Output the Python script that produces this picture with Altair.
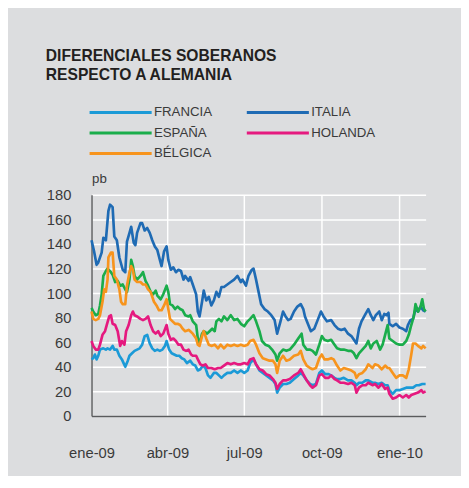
import altair as alt
import pandas as pd

TITLE = ["DIFERENCIALES SOBERANOS", "RESPECTO A ALEMANIA"]
# legend order (column by column: FRANCIA/ESPAÑA/BÉLGICA, then ITALIA/HOLANDA)
SERIES = ["FRANCIA", "ESPAÑA", "BÉLGICA", "ITALIA", "HOLANDA"]
COLORS = ["#1b9ad7", "#1aad4b", "#f7941d", "#1f6bb4", "#e5197f"]
START = "2009-01-01"
MONTHS = ["ene", "feb", "mar", "abr", "may", "jun", "jul", "ago", "sep", "oct", "nov", "dic"]

# days since 2009-01-01 and spread (pb)
ITALIA_D = [0, 3, 6, 8, 12, 14, 17, 20, 22, 25, 27, 30, 33, 37, 40, 42, 45, 47, 50, 52, 54, 58, 60, 63, 66, 69, 72, 75,
            78, 81, 83, 86, 89, 91, 94, 97, 100, 103, 106, 109, 111, 115, 117, 120, 124, 126, 128, 131, 133, 136, 139,
            142, 145, 148, 151, 154, 157, 161, 165, 169, 173, 177, 179, 183, 186, 190,
            192, 195, 198, 201, 205, 209, 213, 217, 220, 224, 227, 230, 233, 236, 240, 244, 248, 251, 253, 257, 260, 264,
            268, 272, 275, 279, 284, 288, 292, 296, 300, 304, 308, 311, 314, 317, 320, 324, 328, 331, 334, 337, 341, 344,
            347, 350, 352, 353, 357, 361, 365, 369, 373, 375, 378, 381, 384, 387, 390, 393, 396]
ITALIA_V = [143, 134, 123, 125, 133, 145, 143, 167, 172, 170, 146, 143, 129, 119, 117, 142, 149, 154, 141, 139, 149, 157,
            157, 151, 153, 149, 143, 138, 135, 127, 122, 134, 138, 127, 119, 121, 117, 119, 118, 111, 114, 110, 113, 107,
            99, 85, 81, 93, 102, 94, 97, 90, 94, 101, 97, 105, 105, 107, 109, 111, 114, 109, 111, 106, 114, 119,
            120, 111, 101, 91, 87, 85, 82, 78, 67, 77, 85, 81, 78, 79, 85, 89, 91, 87, 81, 74, 69, 71, 78, 85, 81, 77,
            78, 74, 71, 70, 71, 67, 65, 62, 59, 71, 77, 82, 87, 82, 78, 82, 85, 78, 83, 82, 84, 75, 73, 75, 72, 71, 69,
            74, 78, 79, 87, 85, 89, 86, 85]

ESPANA_D = [0, 2, 5, 8, 10, 12, 14, 17, 19, 23, 25, 28, 31, 34, 37, 40, 42, 45, 47, 49, 51, 54, 58, 61, 64, 67, 70, 73,
            76, 78, 82, 85, 89, 91, 93, 96, 99, 102, 105, 108, 111, 115, 117, 120, 124, 126, 128, 131, 133, 137, 140,
            143, 146, 148, 151, 154, 157, 161, 165, 169, 173, 177, 181, 185, 188,
            192, 195, 199, 202, 206, 210, 214, 218, 220, 223, 227, 231, 235, 240, 245, 249, 251, 255, 259, 262, 266, 270,
            273, 276, 280, 284, 287, 291, 295, 299, 304, 308, 311, 314, 317, 321, 325, 328, 331, 334, 338, 342, 345, 348,
            351, 353, 357, 361, 365, 369, 373, 376, 379, 382, 384, 387, 390, 392, 394, 396]
ESPANA_V = [88, 85, 82, 83, 90, 99, 114, 118, 120, 117, 115, 109, 110, 106, 107, 103, 101, 111, 127, 122, 114, 111, 114,
            117, 110, 106, 101, 99, 102, 98, 95, 99, 106, 101, 91, 90, 87, 89, 87, 86, 82, 81, 82, 77, 74, 63, 59, 67,
            69, 67, 69, 71, 69, 77, 79, 77, 81, 78, 82, 78, 79, 75, 73, 77, 79,
            82, 77, 69, 61, 58, 57, 54, 50, 45, 51, 54, 53, 54, 58, 63, 67, 58, 54, 54, 53, 50, 58, 65, 62, 61, 62, 59,
            55, 54, 54, 53, 53, 51, 47, 51, 54, 57, 61, 55, 59, 61, 54, 58, 66, 74, 63, 61, 59, 58, 58, 61, 66, 74, 81,
            91, 85, 89, 95, 87, 85]

BELGICA_D = [0, 2, 5, 8, 10, 13, 15, 17, 19, 20, 23, 25, 27, 30, 33, 35, 37, 40, 42, 45, 47, 49, 51, 54, 58, 61, 64, 67,
             70, 74, 77, 80, 83, 86, 89, 91, 93, 96, 99, 102, 105, 108, 111, 115, 117, 120, 124, 126, 128, 131, 133,
             136, 139, 142, 146, 150, 153, 157, 161, 165, 169, 173, 177, 181, 185, 188,
             192, 195, 199, 203, 207, 211, 215, 218, 220, 223, 227, 231, 235, 240, 245, 248, 251, 255, 259, 262, 266,
             270, 273, 276, 280, 284, 287, 291, 295, 299, 304, 308, 312, 314, 317, 321, 325, 328, 333, 336, 340, 344,
             348, 351, 353, 357, 361, 365, 369, 373, 376, 379, 381, 384, 387, 391, 393, 396]
BELGICA_V = [85, 79, 78, 79, 82, 93, 103, 101, 111, 129, 133, 133, 114, 111, 103, 93, 91, 91, 106, 117, 122, 119, 111,
             109, 109, 107, 107, 103, 101, 93, 90, 86, 86, 90, 95, 87, 79, 77, 75, 75, 74, 71, 69, 70, 69, 67, 63, 58,
             57, 65, 69, 63, 58, 57, 58, 55, 58, 55, 58, 57, 58, 57, 58, 57, 58, 61,
             62, 58, 51, 47, 46, 45, 45, 42, 35, 45, 49, 45, 46, 49, 50, 53, 46, 41, 39, 38, 39, 47, 50, 46, 46, 47, 46,
             41, 37, 39, 38, 37, 35, 31, 34, 35, 38, 42, 39, 42, 41, 38, 41, 39, 39, 35, 31, 33, 33, 31, 38, 50, 59, 59,
             57, 55, 57, 55]

HOLANDA_D = [0, 2, 5, 8, 10, 13, 16, 18, 21, 23, 25, 28, 31, 34, 36, 39, 41, 44, 47, 49, 51, 54, 58, 61, 64, 67, 70, 73,
             76, 79, 82, 85, 89, 91, 94, 97, 100, 103, 106, 109, 112, 115, 118, 120, 124, 126, 129, 132, 135, 138, 142,
             146, 150, 153, 157, 161, 165, 169, 173, 177, 181, 185, 188,
             192, 195, 199, 203, 207, 211, 215, 218, 220, 223, 227, 231, 235, 240, 245, 248, 251, 255, 259, 262, 266,
             270, 273, 277, 281, 284, 288, 291, 295, 299, 304, 308, 312, 314, 317, 321, 325, 328, 333, 336, 340, 344,
             348, 351, 353, 357, 361, 365, 369, 373, 376, 379, 383, 387, 391, 393, 396]
HOLANDA_V = [61, 57, 54, 54, 58, 66, 69, 74, 81, 82, 75, 74, 69, 57, 61, 58, 69, 74, 82, 85, 82, 81, 79, 78, 79, 81, 74,
             69, 67, 69, 65, 67, 74, 67, 62, 63, 61, 58, 58, 54, 53, 54, 50, 49, 49, 46, 42, 41, 42, 39, 39, 38, 39, 39,
             41, 43, 42, 43, 42, 42, 43, 42, 46,
             47, 42, 38, 37, 34, 33, 30, 27, 22, 26, 29, 29, 30, 33, 35, 38, 34, 29, 25, 23, 25, 33, 34, 31, 31, 33, 30,
             29, 27, 27, 26, 27, 25, 19, 23, 25, 25, 27, 25, 26, 23, 26, 22, 23, 18, 14, 15, 17, 15, 17, 15, 17, 18, 19,
             21, 19, 20]

FRANCIA_D = [0, 2, 4, 6, 8, 10, 14, 17, 19, 22, 25, 27, 30, 33, 36, 38, 40, 43, 45, 48, 51, 54, 57, 60, 63, 66, 69, 72,
             75, 78, 81, 84, 87, 89, 92, 95, 98, 101, 104, 107, 110, 113, 117, 120, 123, 126, 129, 132, 135, 138, 141,
             145, 148, 151, 154, 157, 161, 165, 169, 173, 177, 181, 185, 188,
             192, 195, 199, 203, 207, 211, 215, 218, 220, 223, 227, 231, 235, 240, 245, 248, 251, 255, 259, 262, 266,
             270, 273, 277, 281, 284, 288, 291, 295, 299, 304, 308, 312, 314, 317, 321, 325, 328, 333, 336, 340, 344,
             348, 351, 353, 357, 361, 365, 369, 373, 377, 381, 385, 388, 392, 396]
FRANCIA_V = [46, 47, 50, 46, 49, 54, 55, 54, 55, 54, 57, 54, 54, 49, 46, 43, 40, 45, 49, 51, 53, 54, 55, 58, 65, 66, 59,
             55, 53, 54, 53, 54, 57, 61, 54, 51, 50, 49, 49, 47, 46, 43, 45, 42, 41, 37, 38, 41, 39, 33, 31, 35, 35, 33,
             31, 33, 35, 35, 37, 35, 37, 35, 37, 43,
             46, 42, 37, 35, 33, 31, 29, 26, 19, 23, 26, 26, 27, 30, 33, 35, 33, 29, 26, 25, 26, 35, 37, 34, 34, 33, 31,
             30, 30, 31, 29, 29, 27, 25, 27, 27, 29, 29, 27, 27, 26, 27, 25, 25, 21, 18, 21, 21, 22, 23, 23, 23, 25, 25,
             26, 26]

# drawing order (last on top)
LAYERS = [("ITALIA", ITALIA_D, ITALIA_V), ("ESPAÑA", ESPANA_D, ESPANA_V), ("BÉLGICA", BELGICA_D, BELGICA_V),
          ("FRANCIA", FRANCIA_D, FRANCIA_V), ("HOLANDA", HOLANDA_D, HOLANDA_V)]

frames = []
for name, d, v in LAYERS:
    df = pd.DataFrame({"d": d, "v": v})
    df["fecha"] = pd.Timestamp(START) + pd.to_timedelta(df["d"], unit="D")
    df["serie"] = name
    frames.append(df[["fecha", "v", "serie"]])
data = pd.concat(frames, ignore_index=True)

FONT = "Liberation Sans"
TXT = "#3a3a3a"
AXIS_LINE = "#5a5b5d"

month_arr = "[" + ",".join("'%s'" % m for m in MONTHS) + "]"
x = alt.X(
    "fecha:T",
    scale=alt.Scale(domain=[alt.DateTime(year=2009, month=1, date=1), alt.DateTime(year=2010, month=2, date=1)]),
    axis=alt.Axis(
        values=[alt.DateTime(year=2009, month=1, date=1), alt.DateTime(year=2009, month=4, date=1),
                alt.DateTime(year=2009, month=7, date=1), alt.DateTime(year=2009, month=10, date=1),
                alt.DateTime(year=2010, month=1, date=1)],
        labelExpr=month_arr + "[month(datum.value)] + '-' + timeFormat(datum.value, '%y')",
        title=None, grid=True, gridColor="white", gridWidth=1.5,
        domainColor=AXIS_LINE, domainWidth=1.5, ticks=False, tickSize=0,
        labelPadding=30, labelFontSize=15, labelFont=FONT, labelColor=TXT, labelFlush=False,
    ),
)
y = alt.Y(
    "v:Q",
    scale=alt.Scale(domain=[0, 180], nice=False),
    axis=alt.Axis(
        values=list(range(0, 181, 20)), title="pb", titleAngle=0, titleX=0, titleY=-13,
        titleAlign="left", titleBaseline="alphabetic", titleFontSize=13.5, titleFontWeight="normal",
        titleColor=TXT, titleFont=FONT,
        labelFontSize=15, labelFont=FONT, labelColor=TXT, labelPadding=21, ticks=False, tickSize=0,
        grid=True, gridColor="white", gridWidth=1.5, domainColor=AXIS_LINE, domainWidth=1.5,
    ),
)
color = alt.Color(
    "serie:N",
    scale=alt.Scale(domain=SERIES, range=COLORS),
    sort=SERIES,
    legend=alt.Legend(
        title=None, orient="none", legendX=-2.5, legendY=-91, columns=2,
        symbolType="M-1.2,0H10.5", symbolSize=116.6, symbolStrokeWidth=3,
        labelFontSize=13.5, labelFont=FONT, labelColor=TXT, labelOffset=52,
        rowPadding=7, columnPadding=28, padding=0,
    ),
)

chart = (
    alt.Chart(data)
    .mark_line(strokeWidth=2.7, strokeJoin="round")
    .encode(x=x, y=y, color=color)
    .properties(
        width=340, height=225,
        padding={"left": 85, "top": 186, "right": 36, "bottom": 57},
        autosize="none",
        background="#dcdddf",
        title=alt.TitleParams(
            text=TITLE, anchor="start", frame="group", font=FONT, fontSize=15.9, fontWeight="bold",
            color="#231f20", lineHeight=19, dx=-46.5, offset=23,
        ),
    )
    .configure_view(stroke=None)
)

chart.save("out.html", embed_options={"renderer": "svg", "actions": False})
